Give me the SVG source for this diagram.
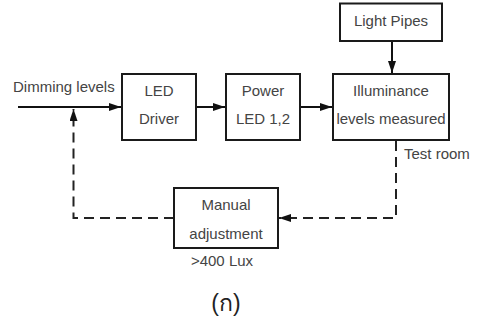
<svg xmlns="http://www.w3.org/2000/svg" width="479" height="320" viewBox="0 0 479 320">
<defs>
<marker id="ah" markerWidth="12" markerHeight="8" refX="12" refY="4" orient="auto" markerUnits="userSpaceOnUse">
<path d="M0,0 L12,4 L0,8 Z" fill="#111"/>
</marker>
<style>
.box{fill:#fff;stroke:#1a1a1a;stroke-width:2}
.t{font-family:"Liberation Sans",Arial,sans-serif;font-size:15px;fill:#444}
.c{text-anchor:middle}
.ln{fill:none;stroke:#111;stroke-width:2}
.ds{fill:none;stroke:#222;stroke-width:2;stroke-dasharray:10 6}
</style>
</defs>
<rect width="479" height="320" fill="#fff"/>
<g id="connectors">
<line class="ln" x1="18" y1="107" x2="121" y2="107" marker-end="url(#ah)"/>
<line class="ln" x1="196" y1="107" x2="225" y2="107" marker-end="url(#ah)"/>
<line class="ln" x1="300" y1="107" x2="332" y2="107" marker-end="url(#ah)"/>
<line class="ln" x1="392" y1="41" x2="392" y2="73" marker-end="url(#ah)"/>
<path class="ds" d="M396,141 V218 H279" marker-end="url(#ah)"/>
<path class="ds" d="M174,218 H73.5 V109" marker-end="url(#ah)"/>
</g>
<g id="dimming-label"><text class="t" x="13" y="92">Dimming levels</text></g>
<g id="led-driver">
<rect class="box" x="122" y="74" width="74" height="66"/>
<text class="t c" x="159" y="96">LED</text>
<text class="t c" x="159" y="124">Driver</text>
</g>
<g id="power-led">
<rect class="box" x="226" y="74" width="74" height="66"/>
<text class="t c" x="263" y="96">Power</text>
<text class="t c" x="263" y="124">LED 1,2</text>
</g>
<g id="illuminance">
<rect class="box" x="333" y="74" width="116" height="66"/>
<text class="t c" x="391" y="96">Illuminance</text>
<text class="t c" x="391" y="124">levels measured</text>
</g>
<g id="light-pipes">
<rect class="box" x="340" y="3.5" width="102" height="37.5"/>
<text class="t c" x="391" y="26">Light Pipes</text>
</g>
<g id="test-room"><text class="t" x="404" y="159">Test room</text></g>
<g id="manual">
<rect class="box" x="174" y="188" width="104" height="60"/>
<text class="t c" x="226" y="210">Manual</text>
<text class="t c" x="226" y="239">adjustment</text>
</g>
<g id="lux"><text class="t c" x="222" y="266">&gt;400 Lux</text></g>
<g id="caption"><text class="t c" x="226" y="311" style="font-size:23px;fill:#222">(ก)</text></g>
</svg>
